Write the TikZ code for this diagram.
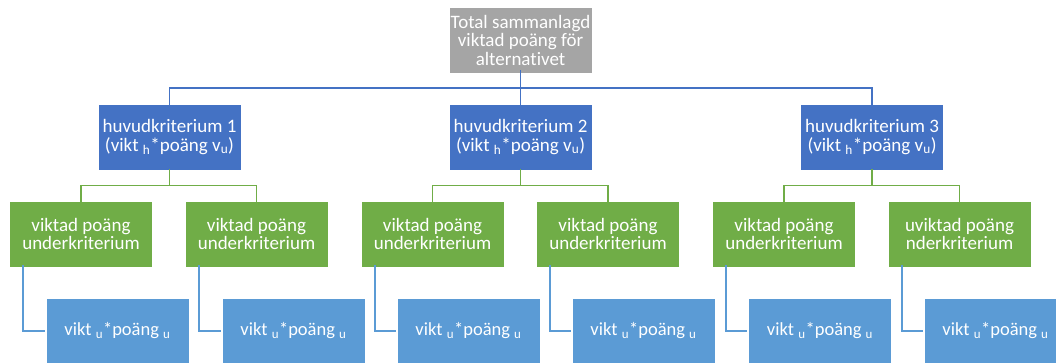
\documentclass[tikz,border=0pt]{standalone}
\usepackage{fontspec}
\setmainfont{Carlito}[Ligatures=NoCommon]
\definecolor{cgray}{HTML}{A5A5A5}
\definecolor{cblue}{HTML}{4472C4}
\definecolor{cgreen}{HTML}{70AD47}
\definecolor{clight}{HTML}{5B9BD5}
\begin{document}
\begin{tikzpicture}[x=1pt,y=-1pt,
  box/.style={draw=white,line width=0.8pt,minimum width=143pt,minimum height=66pt,inner sep=0pt,
    text=white,align=center,font=\fontsize{19}{18.5}\selectfont},
  topbox/.style={box,fill=cgray},
  hbox/.style={box,fill=cblue},
  gbox/.style={box,fill=cgreen},
  lbox/.style={box,fill=clight,font=\fontsize{18.5}{18.5}\selectfont},
  bluecon/.style={draw=cblue,line width=1.8pt},
  greencon/.style={draw=cgreen,line width=1.8pt},
  lightcon/.style={draw=clight,line width=1.8pt}]
\useasboundingbox (0,0) rectangle (1056,362);
\clip (0,0) rectangle (1056,362);
% connectors
\coordinate (tb) at (520.5,88);
\node[topbox] (top) at (520.5,40) {Total sammanlagd\\viktad poäng för\\alternativet};
\node[hbox] (h1) at (169.5,137) {huvudkriterium 1\\(vikt \textsubscript{h}*poäng v\textsubscript{u})};
\node[hbox] (h2) at (520.5,137) {huvudkriterium 2\\(vikt \textsubscript{h}*poäng v\textsubscript{u})};
\node[hbox] (h3) at (872,137) {huvudkriterium 3\\(vikt \textsubscript{h}*poäng v\textsubscript{u})};
\node[gbox] (g11) at (81,234) {viktad poäng\\underkriterium};
\node[gbox] (g12) at (256.5,234) {viktad poäng\\underkriterium};
\node[gbox] (g21) at (432.5,234) {viktad poäng\\underkriterium};
\node[gbox] (g22) at (608,234) {viktad poäng\\underkriterium};
\node[gbox] (g31) at (784,234) {viktad poäng\\underkriterium};
\node[gbox] (g32) at (959.5,234) {uviktad poäng\\nderkriterium};
\node[lbox] (b11) at (117.5,331) {vikt \textsubscript{u}*poäng \textsubscript{u}};
\node[lbox] (b12) at (293.5,331) {vikt \textsubscript{u}*poäng \textsubscript{u}};
\node[lbox] (b21) at (468.5,331) {vikt \textsubscript{u}*poäng \textsubscript{u}};
\node[lbox] (b22) at (643.5,331) {vikt \textsubscript{u}*poäng \textsubscript{u}};
\node[lbox] (b31) at (820,331) {vikt \textsubscript{u}*poäng \textsubscript{u}};
\node[lbox] (b32) at (995.5,331) {vikt \textsubscript{u}*poäng \textsubscript{u}};
% top level connectors
\draw[bluecon] ([yshift=3pt]top.south) -- ([yshift=-2pt]h2.north);
\draw[bluecon] (tb) -| ([yshift=-2pt]h1.north);
\draw[bluecon] (tb) -| ([yshift=-2pt]h3.north);
% green connectors
\foreach \h/\a/\b in {h1/g11/g12,h2/g21/g22,h3/g31/g32}{
  \draw[greencon] ([yshift=1pt]\h.south) -- ++(0,16) coordinate (m\h);
  \draw[greencon] (m\h) -| ([yshift=-2pt]\a.north);
  \draw[greencon] (m\h) -| ([yshift=-2pt]\b.north);
}
% light connectors
\foreach \g/\b in {g11/b11,g12/b12,g21/b21,g22/b22,g31/b31,g32/b32}{
  \draw[lightcon] ([xshift=14pt,yshift=2pt]\g.south west) |- ([xshift=-1pt]\b.west);
}
\end{tikzpicture}
\end{document}
